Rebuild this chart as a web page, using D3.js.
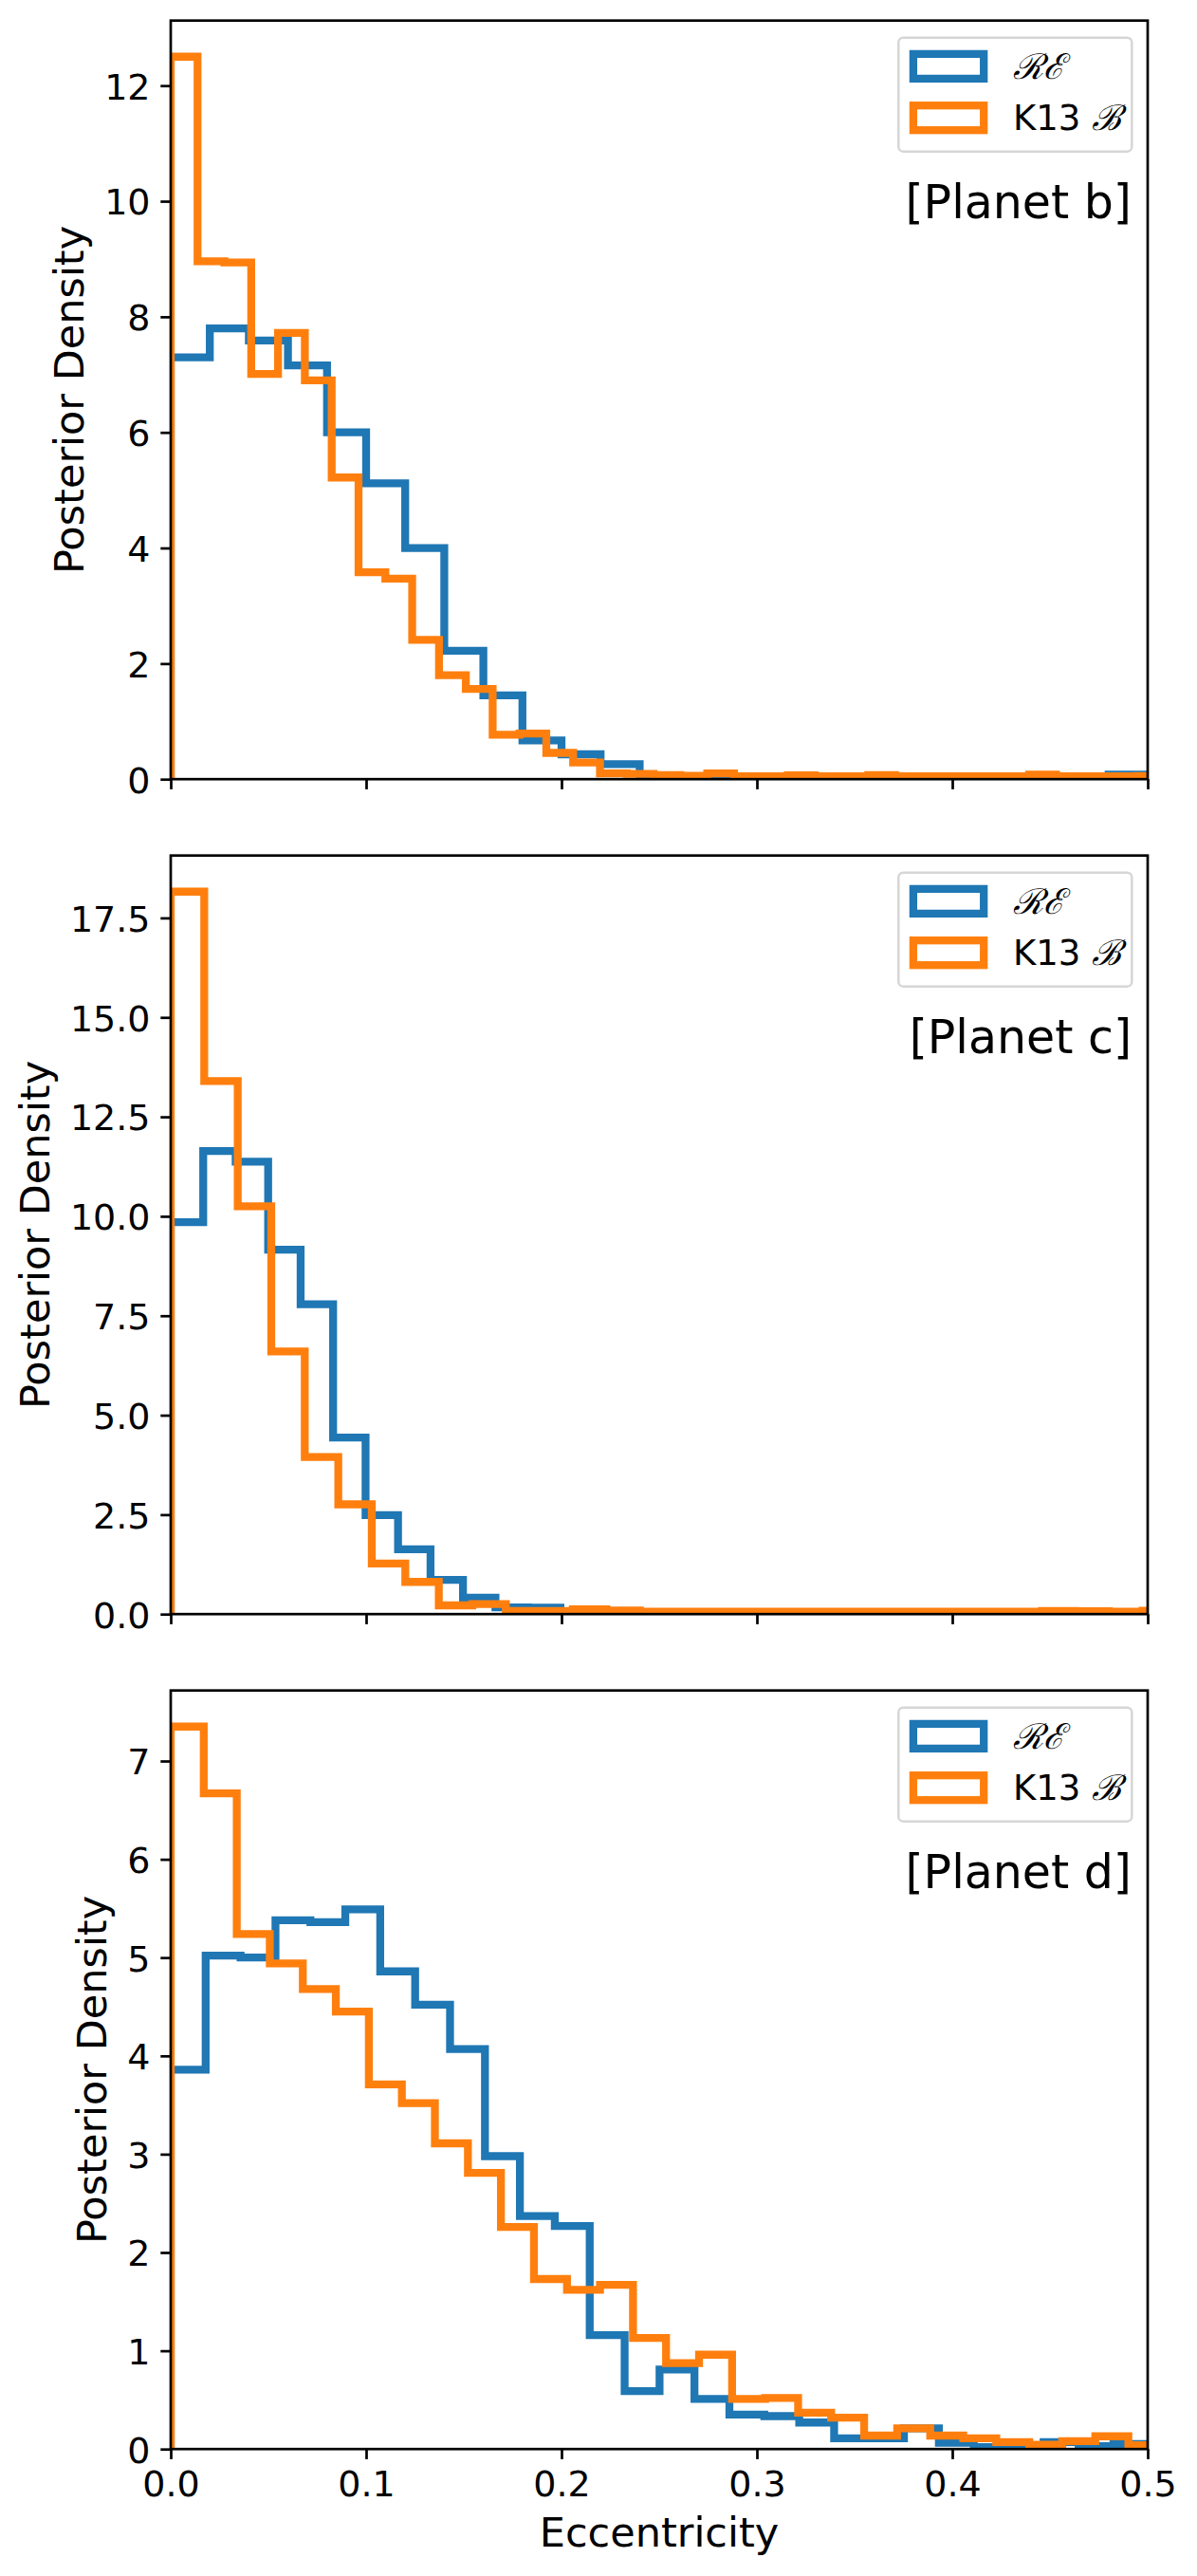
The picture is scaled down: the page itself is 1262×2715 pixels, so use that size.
<!DOCTYPE html>
<html>
<head>
<meta charset="utf-8">
<script src="https://cdn.jsdelivr.net/npm/d3@7"></script>
<style>
  html, body { margin: 0; padding: 0; background: #ffffff; }
  svg { display: block; }
  text { font-family: "DejaVu Sans", "Liberation Sans", sans-serif; fill: #000; }
</style>
</head>
<body>
<svg id="chart"></svg>
<script>
// ---------------- DATA ----------------
const planetLabels = ["[Planet b]", "[Planet c]", "[Planet d]"];
const seriesNames = ["RE", "K13 B"];
const seriesColors = ["#1f77b4", "#ff7f0e"];
const xLabel = "Eccentricity";
const yLabel = "Posterior Density";
const xTicks = [0, 0.1, 0.2, 0.3, 0.4, 0.5];
const xTickLabels = ["0.0", "0.1", "0.2", "0.3", "0.4", "0.5"];

// Planet b
const bWidthRE = 0.02;
const bHeightsRE = [7.30, 7.80, 7.59, 7.16, 6.00, 5.12, 4.00, 2.22, 1.45, 0.67,
                    0.43, 0.26, 0.05, 0.04, 0.03, 0.03, 0.02, 0.02, 0.03, 0.02,
                    0.02, 0.02, 0.03, 0.02, 0.08, 0.03];
const bWidthK13 = 0.01373;
const bHeightsK13 = [12.50, 8.96, 8.94, 7.01, 7.72, 6.90, 5.22, 3.58, 3.47, 2.41,
                     1.80, 1.56, 0.77, 0.79, 0.455, 0.29, 0.10, 0.09, 0.07, 0.06,
                     0.10, 0.05, 0.05, 0.065, 0.05, 0.05, 0.07, 0.05, 0.05, 0.05,
                     0.05, 0.05, 0.08, 0.05, 0.05, 0.05, 0.055, 0.06];
const bYTicks = [0, 2, 4, 6, 8, 10, 12];
const bYTickLabels = ["0", "2", "4", "6", "8", "10", "12"];

// Planet c
const cWidthRE = 0.01662;
const cHeightsRE = [9.85, 11.64, 11.37, 9.16, 7.79, 4.44, 2.49, 1.63, 0.86, 0.41,
                    0.17, 0.16, 0.05, 0.04, 0.04, 0.03, 0.03, 0.03, 0.03, 0.04,
                    0.03, 0.03, 0.03, 0.03, 0.05, 0.05, 0.04, 0.04, 0.03, 0.03, 0.03];
const cWidthK13 = 0.01715;
const cHeightsK13 = [18.16, 13.40, 10.25, 6.60, 3.95, 2.76, 1.27, 0.81, 0.22, 0.25,
                     0.08, 0.08, 0.12, 0.09, 0.06, 0.06, 0.06, 0.06, 0.06, 0.06,
                     0.06, 0.06, 0.06, 0.06, 0.06, 0.06, 0.08, 0.07, 0.06, 0.085, 0.085];
const cYTicks = [0, 2.5, 5, 7.5, 10, 12.5, 15, 17.5];
const cYTickLabels = ["0.0", "2.5", "5.0", "7.5", "10.0", "12.5", "15.0", "17.5"];

// Planet d
const dWidthRE = 0.01787;
const dHeightsRE = [3.86, 5.02, 5.00, 5.38, 5.36, 5.49, 4.86, 4.52, 4.07, 2.98,
                    2.37, 2.27, 1.16, 0.59, 0.81, 0.51, 0.35, 0.335, 0.27, 0.11,
                    0.11, 0.21, 0.063, 0.02, 0.01, 0.07, 0.03, 0.05, 0.01];
const dWidthK13 = 0.0169;
const dHeightsK13 = [7.35, 6.67, 5.24, 4.94, 4.68, 4.45, 3.71, 3.52, 3.11, 2.81,
                     2.26, 1.73, 1.62, 1.67, 1.13, 0.875, 0.96, 0.51, 0.52, 0.37,
                     0.32, 0.137, 0.21, 0.137, 0.11, 0.07, 0.045, 0.08, 0.13, 0.04];
const dYTicks = [0, 1, 2, 3, 4, 5, 6, 7];
const dYTickLabels = ["0", "1", "2", "3", "4", "5", "6", "7"];

const panels = [
  { label: planetLabels[0], series: [[bWidthRE, bHeightsRE], [bWidthK13, bHeightsK13]], yTicks: bYTicks, yTickLabels: bYTickLabels },
  { label: planetLabels[1], series: [[cWidthRE, cHeightsRE], [cWidthK13, cHeightsK13]], yTicks: cYTicks, yTickLabels: cYTickLabels },
  { label: planetLabels[2], series: [[dWidthRE, dHeightsRE], [dWidthK13, dHeightsK13]], yTicks: dYTicks, yTickLabels: dYTickLabels }
];

// ---------------- LAYOUT ----------------
const W = 1262, H = 2715;
const left = 180, right = 1210;
const panelTops = [21.7, 901.7, 1781.7];
const panelH = 799.5;
const tickLen = 10.7;
const tickFont = 38, labelFont = 43, legendFont = 37, planetFont = 49;
const lineW = 8.3, spineW = 2.7;

const svg = d3.select("#chart").attr("width", W).attr("height", H)
  .attr("viewBox", `0 0 ${W} ${H}`);
svg.append("rect").attr("width", W).attr("height", H).attr("fill", "#fff");

const x = d3.scaleLinear().domain([0, 0.5]).range([left, right]);

function mathLabel(sel, name) {
  if (name === "RE") {
    sel.append("tspan").attr("font-family", "DejaVu Serif").attr("font-style", "italic").text("\u211B\u2130");
  } else {
    sel.append("tspan").text("K13 ");
    sel.append("tspan").attr("font-family", "DejaVu Serif").attr("font-style", "italic").text("\u212C");
  }
}

panels.forEach((p, pi) => {
  const top = panelTops[pi];
  const bottom = top + panelH;
  const maxV = d3.max(p.series, s => d3.max(s[1]));
  const y = d3.scaleLinear().domain([0, maxV * 1.05]).range([bottom, top]);

  const g = svg.append("g");
  const clipId = "clip" + pi;
  g.append("clipPath").attr("id", clipId).append("rect")
    .attr("x", left).attr("y", top).attr("width", right - left).attr("height", panelH);

  const line = d3.line().x(d => x(d[0])).y(d => y(d[1]));
  p.series.forEach((s, si) => {
    const [bw, hs] = s;
    const pts = [[0, 0]];
    hs.forEach((h, i) => { pts.push([i * bw, h]); pts.push([(i + 1) * bw, h]); });
    pts.push([hs.length * bw, 0]);
    g.append("path").attr("d", line(pts))
      .attr("fill", "none").attr("stroke", seriesColors[si])
      .attr("stroke-width", lineW).attr("stroke-linejoin", "miter")
      .attr("stroke-linecap", "butt")
      .attr("clip-path", `url(#${clipId})`);
  });

  // spines
  g.append("rect").attr("x", left).attr("y", top).attr("width", right - left).attr("height", panelH)
    .attr("fill", "none").attr("stroke", "#000").attr("stroke-width", spineW);

  // x axis ticks
  const xAxis = d3.axisBottom(x).tickValues(xTicks).tickSize(tickLen).tickPadding(12)
    .tickFormat((d, i) => pi === 2 ? xTickLabels[i] : "");
  const gx = g.append("g").attr("transform", `translate(0,${bottom})`).call(xAxis);
  gx.select(".domain").remove();
  gx.selectAll(".tick line").attr("stroke", "#000").attr("stroke-width", spineW);
  gx.selectAll(".tick text").attr("font-size", tickFont).attr("font-family", "DejaVu Sans")
    .attr("fill", "#000").attr("dy", null).attr("y", 49.8);

  // y axis ticks
  const yAxis = d3.axisLeft(y).tickValues(p.yTicks).tickSize(tickLen).tickPadding(10.8)
    .tickFormat((d, i) => p.yTickLabels[i]);
  const gy = g.append("g").attr("transform", `translate(${left},0)`).call(yAxis);
  gy.select(".domain").remove();
  gy.selectAll(".tick line").attr("stroke", "#000").attr("stroke-width", spineW);
  gy.selectAll(".tick text").attr("font-size", tickFont).attr("font-family", "DejaVu Sans")
    .attr("fill", "#000").attr("dy", "0.3645em");

  const bb = gy.node().getBBox();
  g.append("text").attr("font-size", labelFont)
    .attr("transform", `translate(${left + bb.x - 22},${(top + bottom) / 2}) rotate(-90)`)
    .attr("text-anchor", "middle").text(yLabel);

  // legend
  const lg = g.append("g").attr("transform", `translate(947.3,${top + 18})`);
  lg.append("rect").attr("x", 0).attr("y", 0).attr("width", 246).attr("height", 120)
    .attr("rx", 5).attr("ry", 5).attr("fill", "#fff").attr("fill-opacity", 0.8)
    .attr("stroke", "#d6d6d6").attr("stroke-width", 2.5);
  seriesNames.forEach((name, si) => {
    const cy = 30.2 + si * 54.3;
    lg.append("rect").attr("x", 15.6).attr("y", cy - 13).attr("width", 74.3).attr("height", 26)
      .attr("fill", "none").attr("stroke", seriesColors[si]).attr("stroke-width", lineW);
    const t = lg.append("text").attr("x", 120.7).attr("y", cy + 12.8).attr("font-size", legendFont);
    mathLabel(t, name);
  });

  // planet label
  g.append("text").attr("x", 1193).attr("y", top + 208.5).attr("text-anchor", "end")
    .attr("font-size", planetFont).text(p.label);

  if (pi === 2) {
    g.append("text").attr("x", (left + right) / 2).attr("y", 2684).attr("text-anchor", "middle")
      .attr("font-size", labelFont).text(xLabel);
  }
});
</script>
</body>
</html>
